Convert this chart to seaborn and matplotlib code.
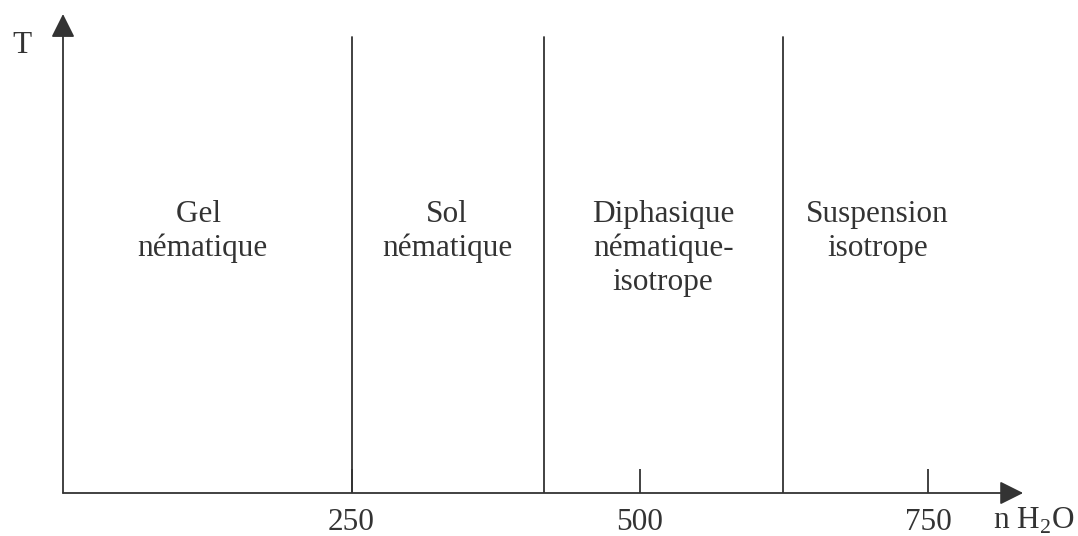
import pandas as pd
import seaborn as sns
from matplotlib import pyplot as plt

# phase boundaries along n H2O
boundaries = [250, 417, 624]
boundary_top = 456

# tick values shown on the x axis
tick_values = [250, 500, 750]
tick_labels = ["250", "500", "750"]

# region labels (one list of lines per region) and where they sit
region_x = [121, 333, 520, 706]
region_lines = [
    ["Gel ", "nématique"],
    ["Sol", "nématique"],
    ["Diphasique", "nématique-", "isotrope"],
    ["Suspension", "isotrope"],
]
first_line_y = 271
line_step = 34

ink = "#333333"

sns.set_theme(style="white")
plt.rcParams["font.family"] = ["Liberation Serif", "DejaVu Serif"]
plt.rcParams["mathtext.fontset"] = "custom"
plt.rcParams["mathtext.rm"] = "Liberation Serif"

fig = plt.figure(figsize=(10.78, 5.36), dpi=100)
ax = fig.add_axes([63 / 1078, 43 / 536, 1015 / 1078, 493 / 536])
ax.set_xlim(0, 1015 / 1.154)
ax.set_ylim(0, 493)

# vertical boundaries between the phases
seg = pd.DataFrame({
    "x": [b for b in boundaries for _ in range(2)],
    "y": [v for _ in boundaries for v in (0, boundary_top)],
    "unit": [i for i in range(len(boundaries)) for _ in range(2)],
})
sns.lineplot(data=seg, x="x", y="y", units="unit", estimator=None, sort=False,
             color=ink, lw=1.3, ax=ax, legend=False)

# axes drawn as arrows
arrow = dict(arrowstyle="-|>,head_length=1,head_width=0.5", mutation_scale=14.4,
             lw=1.3, color=ink, shrinkA=0, shrinkB=0)
ax.annotate("", xy=(832, 0), xytext=(0, 0), arrowprops=arrow, annotation_clip=False)
ax.annotate("", xy=(0, 479), xytext=(0, 0), arrowprops=arrow, annotation_clip=False)

for side in ["left", "right", "top", "bottom"]:
    ax.spines[side].set_visible(False)

ax.set_xticks(tick_values)
ax.set_xticklabels(tick_labels)
ax.set_yticks([])
ax.tick_params(axis="x", direction="in", length=17.3, width=1.3, color=ink,
               pad=10.6, labelsize=22.5, labelcolor=ink, bottom=True)
ax.set_xlabel("")
ax.set_ylabel("")

ax.text(806, -36, "n H$_\\mathregular{2}$O", fontsize=22.5, color=ink,
        ha="left", va="baseline", clip_on=False)
ax.text(-43.8, 440, "T", fontsize=22.5, color=ink, ha="left", va="baseline",
        clip_on=False)

for x, lines in zip(region_x, region_lines):
    for i, line in enumerate(lines):
        ax.text(x, first_line_y - i * line_step, line, fontsize=22.5, color=ink,
                ha="center", va="baseline")

fig.savefig("out.png", dpi=100)
